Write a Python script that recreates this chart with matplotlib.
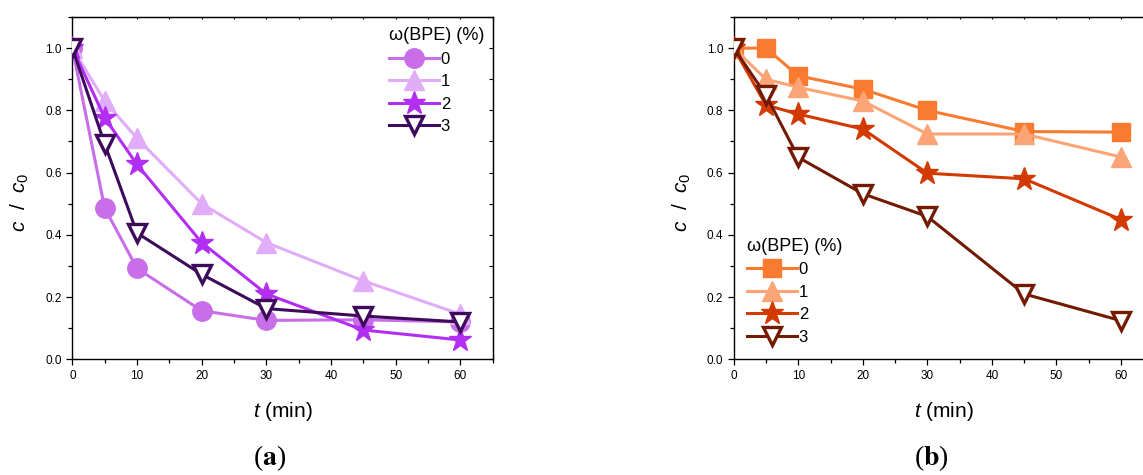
"""Degradation curves c/c0 vs time for two BPE series, panels (a) and (b)."""
import matplotlib

matplotlib.use("Agg")
import matplotlib.pyplot as plt
from matplotlib.ticker import MultipleLocator, FormatStrFormatter

plt.rcParams["font.family"] = ["Liberation Sans", "DejaVu Sans"]
plt.rcParams["mathtext.fontset"] = "custom"
plt.rcParams["mathtext.it"] = "Liberation Sans:italic"
plt.rcParams["mathtext.rm"] = "Liberation Sans"

t_min = [0, 5, 10, 20, 30, 45, 60]
bpe_levels = ["0", "1", "2", "3"]

# panel (a)
a_vals = [
    [1.00, 0.486, 0.292, 0.156, 0.125, 0.127, 0.12],
    [1.00, 0.83, 0.71, 0.50, 0.375, 0.252, 0.145],
    [1.00, 0.776, 0.626, 0.375, 0.21, 0.094, 0.062],
    [1.00, 0.692, 0.406, 0.273, 0.163, 0.139, 0.12],
]
# panel (b)
b_vals = [
    [1.00, 1.00, 0.911, 0.868, 0.80, 0.732, 0.73],
    [1.00, 0.90, 0.874, 0.83, 0.724, 0.724, 0.65],
    [1.00, 0.817, 0.788, 0.74, 0.598, 0.58, 0.449],
    [1.00, 0.849, 0.649, 0.532, 0.459, 0.21, 0.124],
]

a_colors = ["#c86ee8", "#e1acf8", "#b22ff2", "#3d0a5c"]
b_colors = ["#fa7b30", "#fba576", "#d33a02", "#721a02"]
markers = [["o", "^", "*", "v"], ["s", "^", "*", "v"]]
msizes = {"o": 14, "s": 13, "^": 14, "*": 17, "v": 13}

fig = plt.figure(figsize=(11.43, 4.75), dpi=100)
ax_a = fig.add_axes([0.0633, 0.2436, 0.3678, 0.7206])
ax_b = fig.add_axes([0.6419, 0.2436, 0.3671, 0.7206])


def draw_panel(ax, vals, colors, mks, legend_loc, legend_anchor):
    for k, (y, c, m) in enumerate(zip(vals, colors, mks)):
        hollow = m == "v"
        ax.plot(t_min, y, color=c, lw=2.2, marker=m, ms=msizes[m],
                mfc="white" if hollow else c, mec=c,
                mew=2.4 if hollow else 1.0, label=bpe_levels[k],
                zorder=2 + k)
    ax.set_xlim(0, 65)
    ax.set_ylim(0, 1.1)
    ax.xaxis.set_major_locator(MultipleLocator(10))
    ax.xaxis.set_minor_locator(MultipleLocator(5))
    ax.yaxis.set_major_locator(MultipleLocator(0.2))
    ax.yaxis.set_minor_locator(MultipleLocator(0.1))
    ax.yaxis.set_major_formatter(FormatStrFormatter("%.1f"))
    ax.tick_params(which="both", direction="out", labelsize=8.5,
                   width=0.9, top=False, right=False)
    ax.tick_params(which="major", length=4)
    ax.tick_params(which="minor", length=3)
    for s in ax.spines.values():
        s.set_linewidth(1.0)
    # small inward ticks on the top and right frame
    sec_x = ax.secondary_xaxis("top")
    sec_x.set_xticks(range(0, 66, 5))
    sec_x.tick_params(direction="in", length=1.5, labeltop=False, width=0.8)
    sec_y = ax.secondary_yaxis("right")
    sec_y.set_yticks([i / 10 for i in range(11)])
    sec_y.tick_params(direction="in", length=3, labelright=False, width=0.8)
    ax.set_xlabel(r"$t$ (min)", fontsize=15, labelpad=13)
    ax.set_ylabel(r"$c$  /  $c_0$", fontsize=15)
    ax.yaxis.set_label_coords(-0.098, 0.46)
    leg = ax.legend(title="ω(BPE) (%)", loc=legend_loc,
                    bbox_to_anchor=legend_anchor, frameon=False,
                    fontsize=12, title_fontsize=13, handlelength=3.0,
                    handletextpad=0.1, labelspacing=0.45, borderpad=0.2,
                    borderaxespad=0.3)
    leg._legend_box.align = "left"


draw_panel(ax_a, a_vals, a_colors, markers[0], "upper right", (1.0, 0.995))
draw_panel(ax_b, b_vals, b_colors, markers[1], "lower left", (0.012, 0.018))

for x, lab in [(0.2354, "a"), (0.8151, "b")]:
    fig.text(x, 0.036, rf"($\mathbf{{{lab}}}$)", ha="center", va="center",
             fontsize=20, family="Liberation Serif",
             math_fontfamily="stix")

fig.savefig("out.png", dpi=100)
